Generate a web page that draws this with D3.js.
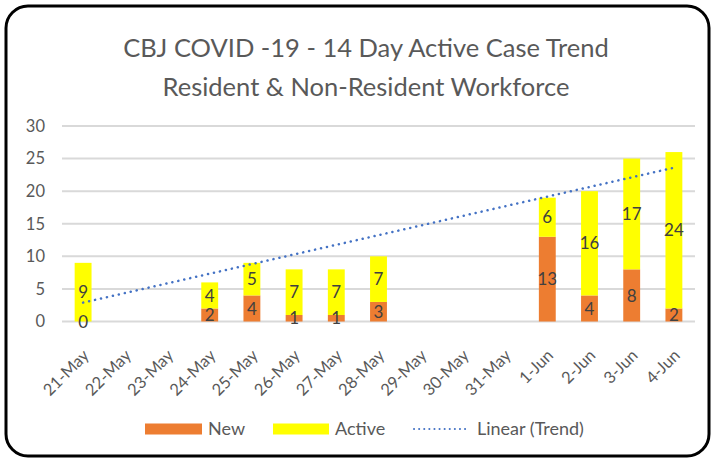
<!DOCTYPE html>
<html>
<head>
<meta charset="utf-8">
<script src="https://cdn.jsdelivr.net/npm/d3@7"></script>
<style>
  body { margin: 0; background: #fff; }
  svg { font-family: Lato, "Open Sans", sans-serif; }
</style>
</head>
<body>
<svg id="chart" width="713" height="460"></svg>
<script>
// categories and values
const dates = ["21-May", "22-May", "23-May", "24-May", "25-May", "26-May", "27-May",
  "28-May", "29-May", "30-May", "31-May", "1-Jun", "2-Jun", "3-Jun", "4-Jun"];
const newCases = [0, null, null, 2, 4, 1, 1, 3, null, null, null, 13, 4, 8, 2];
const activeCases = [9, null, null, 4, 5, 7, 7, 7, null, null, null, 6, 16, 17, 24];
// linear trend endpoints (first and last date)
const trendValues = [2.9, 23.6];
const yTicks = [0, 5, 10, 15, 20, 25, 30];
const titleLines = ["CBJ COVID -19 - 14 Day Active Case Trend", "Resident & Non-Resident Workforce"];

const svg = d3.select("#chart");

// frame
svg.append("rect")
  .attr("x", 6).attr("y", 6)
  .attr("width", 703).attr("height", 450)
  .attr("rx", 22)
  .attr("fill", "#fff")
  .attr("stroke", "#000")
  .attr("stroke-width", 3);

// title
svg.append("g").selectAll("text")
  .data(titleLines)
  .join("text")
  .attr("x", 366)
  .attr("y", (d, i) => 57 + i * 39)
  .attr("text-anchor", "middle")
  .attr("font-size", 25.5)
  .attr("fill", "#595959")
  .text(d => d);

const x = d3.scaleBand()
  .domain(dates)
  .range([62, 695])
  .paddingInner(0.6)
  .paddingOuter(0.3);

const y = d3.scaleLinear()
  .domain([0, 30])
  .range([321.5, 126]);

// gridlines
svg.append("g").selectAll("line")
  .data(yTicks)
  .join("line")
  .attr("x1", 62).attr("x2", 695)
  .attr("y1", d => y(d))
  .attr("y2", d => y(d))
  .attr("stroke", "#d9d9d9")
  .attr("stroke-width", 2);

// y axis
const yAxis = svg.append("g")
  .attr("transform", "translate(45,0)")
  .call(d3.axisLeft(y).tickValues(yTicks).tickSize(0).tickPadding(0));
yAxis.select(".domain").remove();
yAxis.selectAll("text")
  .attr("font-size", 16.5)
  .attr("fill", "#595959")
  .attr("font-family", "Lato, 'Open Sans', sans-serif");

// x axis labels
const xAxis = svg.append("g")
  .attr("transform", `translate(0,${y(0)})`)
  .call(d3.axisBottom(x).tickSize(0).tickPadding(0));
xAxis.select(".domain").remove();
xAxis.selectAll("text")
  .attr("font-size", 16.5)
  .attr("fill", "#595959")
  .attr("font-family", "Lato, 'Open Sans', sans-serif")
  .attr("text-anchor", "end")
  .attr("dy", null)
  .attr("transform", "translate(7,35) rotate(-45)");

// stacked bars
const rows = dates.map((d, i) => ({ date: d, New: newCases[i], Active: activeCases[i] }))
  .filter(r => r.New !== null);
const stack = d3.stack().keys(["New", "Active"])(rows);
const colors = { New: "#ED7D31", Active: "#FFFF00" };

svg.append("g").selectAll("g")
  .data(stack)
  .join("g")
  .attr("fill", s => colors[s.key])
  .selectAll("rect")
  .data(s => s)
  .join("rect")
  .attr("x", d => x(d.data.date))
  .attr("width", x.bandwidth())
  .attr("y", d => y(d[1]))
  .attr("height", d => y(d[0]) - y(d[1]));

// trend line
svg.append("line")
  .attr("x1", x(dates[0]) + x.bandwidth() / 2)
  .attr("x2", x(dates[dates.length - 1]) + x.bandwidth() / 2)
  .attr("y1", y(trendValues[0]))
  .attr("y2", y(trendValues[1]))
  .attr("stroke", "#4472C4")
  .attr("stroke-width", 2.5)
  .attr("stroke-linecap", "round")
  .attr("stroke-dasharray", "0.1 6");

// data labels, on top of every bar
svg.append("g").selectAll("g")
  .data(stack)
  .join("g")
  .selectAll("text")
  .data(s => s)
  .join("text")
  .attr("x", d => x(d.data.date) + x.bandwidth() / 2)
  .attr("y", d => (y(d[0]) + y(d[1])) / 2)
  .attr("dy", "0.36em")
  .attr("text-anchor", "middle")
  .attr("font-size", 17)
  .attr("fill", "#404040")
  .text(d => d[1] - d[0]);

// legend
const legendItems = [
  { name: "New", type: "rect", color: colors.New, x: 145, w: 57 },
  { name: "Active", type: "rect", color: colors.Active, x: 273, w: 56 },
  { name: "Linear (Trend)", type: "line", color: "#4472C4", x: 413, w: 54 }
];
const legend = svg.append("g").selectAll("g")
  .data(legendItems)
  .join("g")
  .attr("transform", d => `translate(${d.x},429)`);

legend.filter(d => d.type === "rect").append("rect")
  .attr("y", -5.5).attr("width", d => d.w).attr("height", 11)
  .attr("fill", d => d.color);

legend.filter(d => d.type === "line").append("line")
  .attr("x1", 1).attr("x2", d => d.w)
  .attr("stroke", d => d.color)
  .attr("stroke-width", 2)
  .attr("stroke-linecap", "round")
  .attr("stroke-dasharray", "0.1 5");

legend.append("text")
  .attr("x", d => d.w + (d.type === "line" ? 10 : 6))
  .attr("dy", "0.36em")
  .attr("font-size", 18)
  .attr("fill", "#595959")
  .text(d => d.name);
</script>
</body>
</html>
